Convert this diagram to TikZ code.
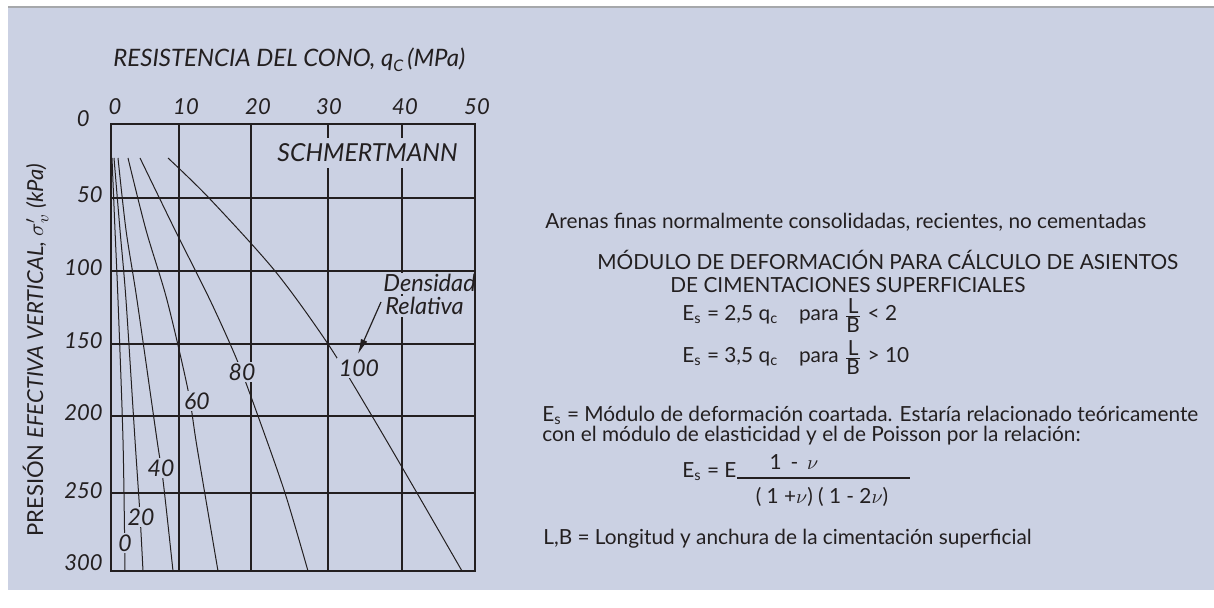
\documentclass[tikz,border=0pt]{standalone}
\usepackage{fontspec}
\setmainfont{Lato}
\usetikzlibrary{arrows.meta}
\definecolor{panel}{RGB}{203,209,227}
\definecolor{ink}{RGB}{35,31,32}
\definecolor{rulegray}{RGB}{166,168,171}
\tikzset{
  gridln/.style={ink,line width=1pt},
  dcurve/.style={ink,line width=0.5pt},
  axlbl/.style={font=\fontsize{11}{13}\selectfont\itshape,text=ink,inner sep=0pt},
  crvlbl/.style={font=\fontsize{11.5}{13}\selectfont\itshape,text=ink,fill=panel,inner sep=1pt},
  note/.style={font=\fontsize{10.4}{12}\selectfont,text=ink,inner sep=0pt,anchor=base west},
}
\begin{document}
\begin{tikzpicture}[x=0.5pt,y=-0.5pt]
\useasboundingbox (0,0) rectangle (1214,608);
\fill[panel] (8,8) rectangle (1214,590);
\draw[rulegray,line width=1pt] (8,7) -- (1214,7);

% inner grid
\foreach \gx in {179,251,328,402} \draw[gridln] (\gx,124) -- (\gx,571);
\foreach \gy in {198,271,344,416,493} \draw[gridln] (111,\gy) -- (475,\gy);

% curves, relative density 0 ... 100
\draw[dcurve] plot[smooth] coordinates {(112,158) (115,230) (118,300) (123,440) (125,571)};
\draw[dcurve] plot[smooth] coordinates {(114,158) (120,230) (126,300) (135,440) (140,515) (143,571)};
\draw[dcurve] plot[smooth] coordinates {(118,158) (126,230) (137,300) (157,440) (163,480) (173,571)};
\draw[dcurve] plot[smooth] coordinates {(128,158) (146,230) (167,300) (188,390) (197,447) (218,571)};
\draw[dcurve] plot[smooth] coordinates {(140,158) (175,230) (210,300) (237,360) (258,416) (285,493) (308,571)};
\draw[dcurve] plot[smooth] coordinates {(168,158) (209,198) (275,271) (328,344) (372,416) (417,493) (462,571)};

\node[crvlbl] (dr0) at (125,543) {0};
\node[crvlbl] (dr20) at (141,517) {20};
\node[crvlbl] (dr40) at (161,468) {40};
\node[crvlbl] (dr60) at (197,401) {60};
\node[crvlbl] (dr80) at (242,372) {80};
\node[crvlbl] (dr100) at (359,368) {100};
\node[crvlbl,font=\fontsize{12.4}{14}\selectfont\itshape,inner ysep=3pt,anchor=base west] (schm) at (275,162) {SCHMERTMANN};
\node[crvlbl,font=\fontsize{11.8}{14}\selectfont\itshape,anchor=base west] (dens) at (381,292) {Densidad};
\node[crvlbl,font=\fontsize{11.8}{14}\selectfont\itshape,anchor=base west] (rela) at (383,315) {Relativa};
\coordinate (atail) at (381,302);
\coordinate (ahead) at (358,354);
\draw[ink,line width=0.6pt,-{Latex[length=7.5pt,width=3.5pt]}] (atail) -- (ahead);

% frame
\draw[gridln] (111,124) rectangle (475,571);

% axes
\foreach \gx/\qc in {115/0,186/10,258/20,329/30,405/40,477/50}
  \node[axlbl,anchor=base] (qc\qc) at (\gx,115) {\qc};
\node[axlbl,anchor=base east] (sv0) at (90,127) {0};
\foreach \gy/\sv in {203/50,276/100,349/150,421/200,498/250,570/300}
  \node[axlbl,anchor=base east] (sv\sv) at (103,\gy) {\sv};
\node[axlbl,font=\fontsize{12}{14}\selectfont\itshape,anchor=base west] (xtitle) at (113,67)
  {RESISTENCIA DEL CONO, q\raisebox{-0.35ex}{\footnotesize C}\,(MPa)};
\node[axlbl,anchor=base west,rotate=90] (ytitle) at (43,537)
  {\upshape PRESIÓN \itshape EFECTIVA VERTICAL, \upshape$\sigma'_{v}$ \itshape(kPa)};

% notes
\node[note] (sand) at (545,229) {Arenas finas normalmente consolidadas, recientes, no cementadas};
\node[note] (head1) at (597,270) {MÓDULO DE DEFORMACIÓN PARA CÁLCULO DE ASIENTOS};
\node[note] (head2) at (670,293) {DE CIMENTACIONES SUPERFICIALES};
\node[note] (es1) at (682,321) {E\textsubscript{s} = 2,5 q\textsubscript{c}\quad para $\frac{\mbox{L}}{\mbox{B}}$ < 2};
\node[note] (es2) at (682,363) {E\textsubscript{s} = 3,5 q\textsubscript{c}\quad para $\frac{\mbox{L}}{\mbox{B}}$ > 10};
\node[note] (def1) at (542,422) {E\textsubscript{s} = Módulo de deformación coartada. Estaría relacionado teóricamente};
\node[note] (def2) at (542,442) {con el módulo de elasticidad y el de Poisson por la relación:};
\node[note] (es3) at (682,478) {E\textsubscript{s} = E};
\node[note,anchor=base] (num) at (794,470) {1 \,-\, $\nu$};
\draw[ink,line width=0.6pt] (737,478) -- (910,478);
\node[note,anchor=base] (den) at (822,503) {( 1 +$\nu$) ( 1 - 2$\nu$)};
\node[note] (lb) at (543,544) {L,B = Longitud y anchura de la cimentación superficial};
\end{tikzpicture}
\end{document}
